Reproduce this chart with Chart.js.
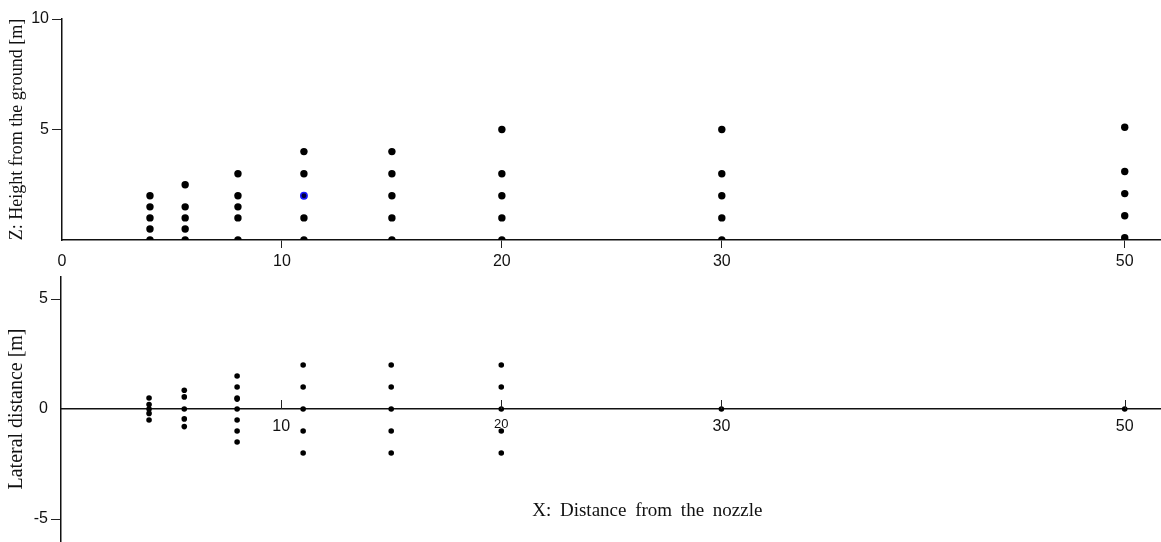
<!DOCTYPE html>
<html>
<head>
<meta charset="utf-8">
<title>Sampling points</title>
<script src="https://cdn.jsdelivr.net/npm/chart.js@4.4.1/dist/chart.umd.min.js"></script>
<style>
  html, body { margin: 0; padding: 0; background: #fff; }
  canvas { display: block; }
</style>
</head>
<body>
<canvas id="heightchart" width="1161" height="270"></canvas>
<canvas id="lateralchart" width="1161" height="272"></canvas>
<script>
// stations along the jet, m from the nozzle
var stations = [4, 5.6, 8, 11, 15, 20, 30, 50];

// sampler heights above ground at each station
var heights = [
  [0, 0.5, 1, 1.5, 2],
  [0, 0.5, 1, 1.5, 2.5],
  [0, 1, 1.5, 2, 3],
  [0, 1, 3, 4],
  [0, 1, 2, 3, 4],
  [0, 1, 2, 3, 5],
  [0, 1, 2, 3, 5],
  [0.1, 1.1, 2.1, 3.1, 5.1]
];
// the 11 m / 2 m sampler is drawn in blue
var markedPoint = [{x: 11, y: 2}];

// lateral offsets at each station
var lateral = [
  [-0.5, -0.2, 0, 0.2, 0.5],
  [-0.8, -0.45, 0, 0.55, 0.85],
  [-1.5, -1, -0.5, 0, 0.45, 0.5, 1, 1.5],
  [-2, -1, 0, 1, 2],
  [-2, -1, 0, 1, 2],
  [-2, -1, 0, 1, 2],
  [0],
  [0]
];

var heightTicks = [5, 10];
var lateralTicks = [-5, 0, 5];
var distanceTicksTop = [0, 10, 20, 30, 50];
var distanceTicksBottom = [10, 20, 30, 50];

// linear distance axis, squeezed a bit past 30 m so 50 m still fits
class SqueezedScale extends Chart.LinearScale {
  warp(v) { return v <= 30 ? v : 30 + (v - 30) * 0.916; }
  getPixelForValue(value) {
    if (value === null || value === undefined) return NaN;
    var lo = this.warp(this.min), hi = this.warp(this.max);
    return this.getPixelForDecimal((this.warp(value) - lo) / (hi - lo));
  }
  getValueForPixel(pixel) {
    var lo = this.warp(this.min), hi = this.warp(this.max);
    var w = lo + this.getDecimalForPixel(pixel) * (hi - lo);
    return w <= 30 ? w : 30 + (w - 30) / 0.916;
  }
}
SqueezedScale.id = 'squeezed';
SqueezedScale.defaults = Chart.LinearScale.defaults;
Chart.register(SqueezedScale);

function columnPoints(values) {
  var pts = [];
  stations.forEach(function (x, i) {
    values[i].forEach(function (v) { pts.push({x: x, y: v}); });
  });
  return pts;
}

function fixedTicks(list) {
  return function (scale) {
    scale.ticks = list.map(function (v) { return {value: v}; });
  };
}

// keep the plot area where the layout padding puts it
function noPadding(size) {
  return function (s) {
    s.paddingLeft = s.paddingRight = s.paddingTop = s.paddingBottom = 0;
    if (size && size.width) s.width = size.width;
    if (size && size.height) s.height = size.height;
  };
}

var ink = '#111';
var tickFont = {family: "'Liberation Sans', Arial, sans-serif", size: 16};
var serif = "'Liberation Serif', 'Times New Roman', serif";

// tick marks pointing up from the lateral zero line
var upTicks = {
  id: 'upTicks',
  afterDraw: function (chart) {
    var ctx = chart.ctx, xs = chart.scales.x;
    var y0 = chart.scales.y.getPixelForValue(0);
    ctx.save();
    ctx.strokeStyle = '#222';
    ctx.lineWidth = 1;
    xs.ticks.forEach(function (t) {
      var px = Math.round(xs.getPixelForValue(t.value)) + 0.5;
      ctx.beginPath();
      ctx.moveTo(px, y0);
      ctx.lineTo(px, y0 - 9);
      ctx.stroke();
    });
    ctx.restore();
  }
};

// shared distance title, written inside the lower plot
var distanceTitle = {
  id: 'distanceTitle',
  afterDraw: function (chart) {
    var ctx = chart.ctx, area = chart.chartArea;
    ctx.save();
    ctx.font = '19px ' + serif;
    ctx.fillStyle = ink;
    ctx.textAlign = 'center';
    ctx.textBaseline = 'middle';
    if ('wordSpacing' in ctx) ctx.wordSpacing = '4px';
    ctx.fillText('X: Distance from the nozzle', area.left + (area.right - area.left) * 0.533, area.bottom - 30);
    ctx.restore();
  }
};

// height vs. distance
var chart1 = new Chart(document.getElementById('heightchart'), {
  type: 'scatter',
  data: {
    datasets: [{
      data: columnPoints(heights),
      pointBackgroundColor: '#000',
      pointBorderWidth: 0,
      pointRadius: 3.7
    }, {
      data: markedPoint,
      pointBackgroundColor: '#000040',
      pointBorderColor: '#1a1aff',
      pointBorderWidth: 1.5,
      pointRadius: 3.2
    }]
  },
  options: {
    responsive: false,
    animation: false,
    layout: { autoPadding: false, padding: {top: 19, right: 0, bottom: 0, left: 0} },
    plugins: { legend: {display: false}, tooltip: {enabled: false} },
    scales: {
      x: {
        type: 'squeezed',
        min: 0,
        max: 51.8,
        afterBuildTicks: fixedTicks(distanceTicksTop),
        afterFit: noPadding({height: 30}),
        border: {color: ink, width: 1.5},
        grid: {
          drawOnChartArea: false,
          tickLength: 8,
          color: function (c) { return c.tick && c.tick.value === 0 ? 'rgba(0,0,0,0)' : '#222'; }
        },
        ticks: {font: tickFont, color: ink, padding: 4, maxRotation: 0, autoSkip: false}
      },
      y: {
        min: 0,
        max: 10,
        afterBuildTicks: fixedTicks(heightTicks),
        afterFit: noPadding({width: 62}),
        border: {color: ink, width: 1.5},
        grid: {drawOnChartArea: false, tickLength: 10, color: '#222'},
        ticks: {font: tickFont, color: ink, padding: 3},
        title: {
          display: true,
          text: 'Z: Height from the ground [m]',
          font: {family: serif, size: 18},
          color: ink,
          padding: {top: 6, bottom: 0}
        }
      }
    }
  }
});

// lateral offset vs. distance
var chart2 = new Chart(document.getElementById('lateralchart'), {
  type: 'scatter',
  data: {
    datasets: [{
      data: columnPoints(lateral),
      pointBackgroundColor: '#000',
      pointBorderWidth: 0,
      pointRadius: 2.8
    }]
  },
  plugins: [upTicks, distanceTitle],
  options: {
    responsive: false,
    animation: false,
    layout: { autoPadding: false, padding: {top: 7, right: 0, bottom: 1, left: 0} },
    plugins: { legend: {display: false}, tooltip: {enabled: false} },
    scales: {
      x: {
        type: 'squeezed',
        position: {y: 0},
        min: 0,
        max: 51.8,
        afterBuildTicks: fixedTicks(distanceTicksBottom),
        afterFit: noPadding(),
        border: {color: ink, width: 1.5},
        grid: {drawOnChartArea: false, drawTicks: false},
        ticks: {
          font: function (c) { return c.tick && c.tick.value === 20 ? {family: tickFont.family, size: 13} : tickFont; },
          color: ink,
          padding: 8,
          maxRotation: 0,
          autoSkip: false
        }
      },
      y: {
        min: -6,
        max: 6,
        afterBuildTicks: fixedTicks(lateralTicks),
        afterFit: noPadding({width: 61}),
        border: {color: ink, width: 1.5},
        grid: {
          drawOnChartArea: false,
          tickLength: 10,
          color: function (c) { return c.tick && c.tick.value === 0 ? 'rgba(0,0,0,0)' : '#222'; }
        },
        ticks: {font: tickFont, color: ink, padding: 3},
        title: {
          display: true,
          text: 'Lateral distance [m]',
          font: {family: serif, size: 20},
          color: ink,
          padding: {top: 5, bottom: 0}
        }
      }
    }
  }
});
</script>
</body>
</html>
